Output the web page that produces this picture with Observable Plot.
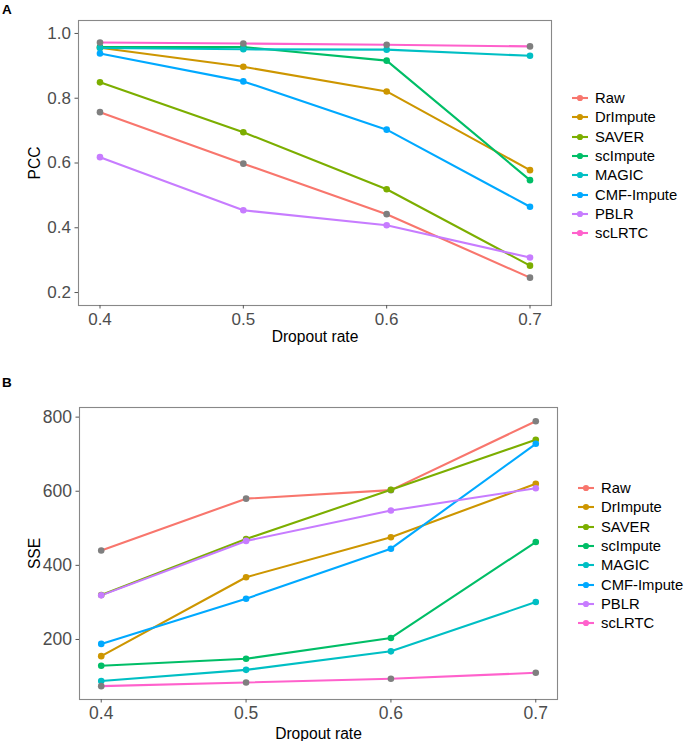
<!DOCTYPE html>
<html>
<head>
<meta charset="utf-8">
<script src="https://cdn.jsdelivr.net/npm/d3@7"></script>
<script src="https://cdn.jsdelivr.net/npm/@observablehq/plot@0.6"></script>
<style>
  body { margin: 0; background: white; font-family: "Liberation Sans", Arial, sans-serif; }
  #wrap { position: relative; width: 685px; height: 741px; overflow: hidden; background: white; }
  .panel { position: absolute; left: 0; }
  .tag { position: absolute; left: 2px; font-weight: bold; font-size: 13.5px; color: black; line-height: 1; }
  .legend { position: absolute; font-size: 14.8px; color: black; }
  .legend .row { display: flex; align-items: center; height: 19.3px; }
  .legend svg { margin-right: 7px; }
</style>
</head>
<body>
<div id="wrap"></div>
<script>
// ---- data ----
const rates = [0.4, 0.5, 0.6, 0.7];
const methods = ["Raw", "DrImpute", "SAVER", "scImpute", "MAGIC", "CMF-Impute", "PBLR", "scLRTC"];
const methodColors = ["#F8766D", "#CD9600", "#7CAE00", "#00BE67", "#00BFC4", "#00A9FF", "#C77CFF", "#FF61CC"];
const grayPointMethods = ["Raw", "scLRTC"];

// PCC (panel A)
const pccRaw       = [0.757, 0.598, 0.442, 0.246];
const pccDrImpute  = [0.956, 0.897, 0.821, 0.578];
const pccSAVER     = [0.849, 0.695, 0.519, 0.283];
const pccScImpute  = [0.958, 0.958, 0.916, 0.547];
const pccMAGIC     = [0.955, 0.951, 0.950, 0.931];
const pccCMF       = [0.938, 0.852, 0.703, 0.465];
const pccPBLR      = [0.618, 0.454, 0.408, 0.308];
const pccScLRTC    = [0.972, 0.969, 0.965, 0.960];
const pccTicks = [0.2, 0.4, 0.6, 0.8, 1.0];

// SSE (panel B)
const sseRaw       = [440, 580, 603, 789];
const sseDrImpute  = [155, 368, 476, 620];
const sseSAVER     = [320, 471, 604, 739];
const sseScImpute  = [129, 148, 204, 463];
const sseMAGIC     = [88, 118, 168, 301];
const sseCMF       = [188, 310, 445, 728];
const ssePBLR      = [319, 466, 548, 608];
const sseScLRTC    = [74, 84, 94, 110];
const sseTicks = [200, 400, 600, 800];

const pccSeries = [pccRaw, pccDrImpute, pccSAVER, pccScImpute, pccMAGIC, pccCMF, pccPBLR, pccScLRTC];
const sseSeries = [sseRaw, sseDrImpute, sseSAVER, sseScImpute, sseMAGIC, sseCMF, ssePBLR, sseScLRTC];

function rowsOf(series) {
  return methods.flatMap((m, i) => rates.map((r, j) => ({method: m, rate: r, value: series[i][j]})));
}

const FONT = "'Liberation Sans', Arial, sans-serif";
const TICK_COLOR = "#555555";
const TICK_TEXT = "#4D4D4D";
const GRAY = "#7F7F7F";

function panel(rows, opts) {
  const first = rows.filter(d => d.method === grayPointMethods[0]);
  const mid = rows.filter(d => !grayPointMethods.includes(d.method));
  const last = rows.filter(d => d.method === grayPointMethods[1]);
  return Plot.plot({
    width: 685,
    height: opts.height,
    marginLeft: opts.ml, marginRight: opts.mr, marginTop: opts.mt, marginBottom: opts.mb,
    style: {fontFamily: FONT, background: "white", overflow: "visible"},
    x: {domain: [0.385, 0.715]},
    y: {domain: opts.yDomain},
    color: {domain: methods, range: methodColors},
    marks: [
      Plot.lineY(rows, {x: "rate", y: "value", z: "method", stroke: "method", strokeWidth: 2.1}),
      Plot.dot(first, {x: "rate", y: "value", fill: GRAY, r: 3.3}),
      Plot.dot(mid, {x: "rate", y: "value", fill: "method", r: 3.3}),
      Plot.dot(last, {x: "rate", y: "value", fill: GRAY, r: 3.3}),
      Plot.frame({stroke: "#888888", strokeWidth: 1.1}),
      Plot.axisX({ticks: rates, tickFormat: d3.format(".1f"), tickSize: 3.5, tickPadding: 4,
        fontSize: opts.fs, fill: TICK_TEXT, stroke: TICK_COLOR, label: null}),
      Plot.axisX({ticks: [], label: "Dropout rate", labelAnchor: "center", labelArrow: "none",
        labelOffset: opts.xlo, fontSize: 15.6, fill: "black"}),
      Plot.axisY({ticks: opts.yTicks, tickFormat: opts.yFmt, tickSize: 3.5, tickPadding: 4,
        fontSize: opts.fs, fill: TICK_TEXT, stroke: TICK_COLOR, label: null}),
      Plot.axisY({ticks: [], label: opts.ylab, labelAnchor: "center", labelArrow: "none",
        labelOffset: opts.ylo, fontSize: 15.6, fill: "black"})
    ]
  });
}

function legend(top, left) {
  const div = document.createElement("div");
  div.className = "legend";
  div.style.top = top + "px";
  div.style.left = left + "px";
  methods.forEach((m, i) => {
    const row = document.createElement("div");
    row.className = "row";
    row.innerHTML = `<svg width="16" height="8"><line x1="0" x2="16" y1="4" y2="4" stroke="${methodColors[i]}" stroke-width="2.1"/><circle cx="8" cy="4" r="3.1" fill="${methodColors[i]}"/></svg><span>${m}</span>`;
    div.appendChild(row);
  });
  return div;
}

const wrap = document.getElementById("wrap");

const svgA = panel(rowsOf(pccSeries), {
  height: 345, ml: 78, mr: 134, mt: 20, mb: 40, yDomain: [0.16, 1.04],
  yTicks: pccTicks, yFmt: d3.format(".1f"), ylab: "PCC", fs: 17, xlo: 36.5, ylo: 50
});
svgA.classList.add("panel");
svgA.style.top = "0px";
wrap.appendChild(svgA);

const svgB = panel(rowsOf(sseSeries), {
  height: 371, ml: 79, mr: 128, mt: 37, mb: 42, yDomain: [38, 826],
  yTicks: sseTicks, yFmt: d3.format("d"), ylab: "SSE", fs: 17.5, xlo: 39.5, ylo: 51
});
svgB.classList.add("panel");
svgB.style.top = "370px";
wrap.appendChild(svgB);

const tagA = document.createElement("div");
tagA.className = "tag"; tagA.textContent = "A"; tagA.style.top = "3px";
wrap.appendChild(tagA);
const tagB = document.createElement("div");
tagB.className = "tag"; tagB.textContent = "B"; tagB.style.top = "376px";
wrap.appendChild(tagB);

wrap.appendChild(legend(88.5, 572));
wrap.appendChild(legend(478.5, 578));
</script>
</body>
</html>
